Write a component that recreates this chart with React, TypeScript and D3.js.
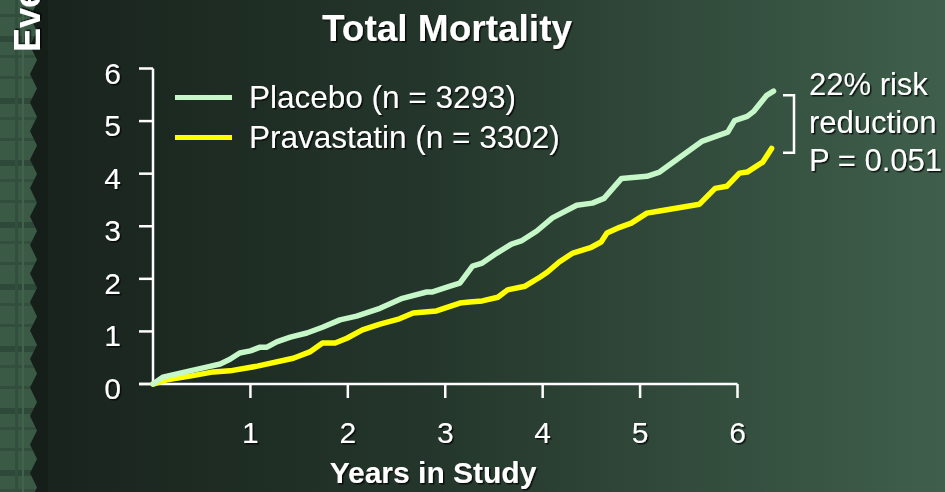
import React from 'react';
import * as d3 from 'd3';

// cumulative event rate (%)
const placeboYears = [0, 0.1, 0.38, 0.55, 0.69, 0.79, 0.89, 1.0, 1.1, 1.17, 1.27, 1.41, 1.58, 1.74, 1.92, 2.09, 2.33, 2.56, 2.81, 2.87, 3.05, 3.15, 3.28, 3.38, 3.53, 3.68, 3.78, 3.94, 4.1, 4.35, 4.51, 4.63, 4.81, 5.07, 5.2, 5.37, 5.64, 5.9, 5.97, 6.1, 6.17, 6.3, 6.37];
const placeboRate = [0, 0.13, 0.25, 0.32, 0.38, 0.47, 0.59, 0.63, 0.7, 0.7, 0.8, 0.89, 0.97, 1.08, 1.22, 1.29, 1.44, 1.63, 1.75, 1.75, 1.86, 1.92, 2.24, 2.3, 2.49, 2.66, 2.72, 2.91, 3.16, 3.4, 3.44, 3.53, 3.91, 3.95, 4.03, 4.26, 4.62, 4.79, 5.01, 5.09, 5.19, 5.49, 5.57];

const pravaYears = [0, 0.14, 0.38, 0.62, 0.79, 1.07, 1.44, 1.61, 1.74, 1.87, 1.99, 2.15, 2.33, 2.53, 2.67, 2.91, 3.15, 3.25, 3.38, 3.54, 3.64, 3.82, 3.97, 4.05, 4.17, 4.31, 4.5, 4.6, 4.66, 4.79, 4.91, 5.07, 5.2, 5.61, 5.77, 5.89, 6.02, 6.1, 6.26, 6.35];
const pravaRate = [0, 0.08, 0.15, 0.23, 0.25, 0.34, 0.49, 0.61, 0.78, 0.78, 0.87, 1.03, 1.14, 1.24, 1.35, 1.39, 1.54, 1.56, 1.58, 1.65, 1.79, 1.86, 2.03, 2.13, 2.32, 2.49, 2.6, 2.7, 2.87, 2.98, 3.06, 3.25, 3.29, 3.42, 3.72, 3.76, 4.01, 4.03, 4.22, 4.48];

const yTicks = [0, 1, 2, 3, 4, 5, 6];
const xTicks = [1, 2, 3, 4, 5, 6];

const legendLabels = ['Placebo (n = 3293)', 'Pravastatin (n = 3302)'];
const noteLines = ['22% risk', 'reduction', 'P = 0.051'];

const W = 945;
const H = 492;
const FONT = '"Liberation Sans", Arial, Helvetica, sans-serif';
const PLACEBO = '#c6f7c8';
const PRAVA = '#ffff00';

const App = () => {
  const x = d3.scaleLinear().domain([0, 6]).range([153, 737.5]);
  const y = d3.scaleLinear().domain([0, 6]).range([384, 68.5]);

  const line = d3.line<number>()
    .x(d => x(d[0]))
    .y(d => y(d[1]));

  const placebo = placeboYears.map((t, i) => [t, placeboRate[i]]);
  const prava = pravaYears.map((t, i) => [t, pravaRate[i]]);

  // saw-tooth edge of the plaid strip on the left
  const zig = d3.range(-1, 19).flatMap(k => [[37, k * 28.5 + 3], [30, k * 28.5 + 17]]);
  const stripPts = [[0, -30], ...zig, [0, H + 30]].map(p => p.join(',')).join(' ');

  const bracketTop = y(5.5) + 0.5;
  const bracketBot = y(4.4);

  return (
    <svg width={W} height={H} style={{ position: 'absolute', left: 0, top: 0 }} fontFamily={FONT}>
      <defs>
        <linearGradient id="bg" x1="0" x2="1" y1="0" y2="0">
          <stop offset="0" stopColor="#17211b" />
          <stop offset="0.45" stopColor="#24362b" />
          <stop offset="1" stopColor="#3f5f4c" />
        </linearGradient>
        <pattern id="plaid" width="40" height="62" patternUnits="userSpaceOnUse">
          <rect width="40" height="62" fill="#3a5a45" />
          <rect x="0" y="14" width="40" height="3" fill="#314d3c" />
          <rect x="0" y="36" width="40" height="6" fill="#2e4939" />
          <rect x="0" y="55" width="40" height="3" fill="#324e3d" />
          <rect x="15" y="0" width="3" height="62" fill="#324e3d" />
          <rect x="22" y="0" width="2" height="62" fill="#42624c" />
        </pattern>
        <filter id="ts" x="-5%" y="-20%" width="110%" height="140%">
          <feDropShadow dx="1.5" dy="1.5" stdDeviation="0.6" floodColor="#000" floodOpacity="0.75" />
        </filter>
      </defs>

      <rect width={W} height={H} fill="url(#bg)" />
      <rect x="30" width="18" height={H} fill="#121a15" opacity="0.5" />
      <polygon points={stripPts} fill="url(#plaid)" />

      {/* y-axis title, mostly cut off at the top as in the slide */}
      <text transform="translate(40,52) rotate(-90)" fill="#fff" fontWeight="bold" fontSize={36} filter="url(#ts)">
        Events (%)
      </text>

      <text x={447} y={41} textAnchor="middle" fill="#fff" fontWeight="bold" fontSize={37} filter="url(#ts)">
        Total Mortality
      </text>

      {/* axes */}
      <g stroke="#fff" strokeWidth={2.5} fill="none">
        <path d={`M${x(0) - 14},${y(0)}H${x(6)}`} />
        <path d={`M${x(0)},${y(0)}V${y(6)}`} />
        {yTicks.map(t => (
          <line key={t} x1={x(0) - 14} x2={x(0)} y1={y(t)} y2={y(t)} />
        ))}
        {xTicks.map(t => (
          <line key={t} x1={x(t)} x2={x(t)} y1={y(0)} y2={y(0) + 14} />
        ))}
      </g>
      <g fill="#fff" fontSize={30} filter="url(#ts)">
        {yTicks.map(t => (
          <text key={t} x={121} y={y(t) + 15} textAnchor="end">{t}</text>
        ))}
        {xTicks.map(t => (
          <text key={t} x={x(t)} y={443} textAnchor="middle">{t}</text>
        ))}
      </g>
      <text x={433} y={483} textAnchor="middle" fill="#fff" fontWeight="bold" fontSize={30} filter="url(#ts)">
        Years in Study
      </text>

      {/* curves */}
      <path d={line(prava as any) || ''} fill="none" stroke={PRAVA} strokeWidth={5.5} strokeLinejoin="round" strokeLinecap="round" />
      <path d={line(placebo as any) || ''} fill="none" stroke={PLACEBO} strokeWidth={5.5} strokeLinejoin="round" strokeLinecap="round" />

      {/* legend */}
      {legendLabels.map((lab, i) => (
        <g key={lab}>
          <line x1={175} x2={232} y1={97.5 + i * 40} y2={97.5 + i * 40} stroke={i === 0 ? PLACEBO : PRAVA} strokeWidth={5} />
          <text x={249} y={108 + i * 40} fill="#fff" fontSize={31.5} filter="url(#ts)">{lab}</text>
        </g>
      ))}

      {/* annotation */}
      <path d={`M783,${bracketTop}H794V${bracketBot}H783`} fill="none" stroke="#fff" strokeWidth={2.5} />
      <g fill="#fff" fontSize={31} filter="url(#ts)">
        {noteLines.map((s, i) => (
          <text key={s} x={809} y={95 + i * 38}>{s}</text>
        ))}
      </g>
    </svg>
  );
};

export default App;
